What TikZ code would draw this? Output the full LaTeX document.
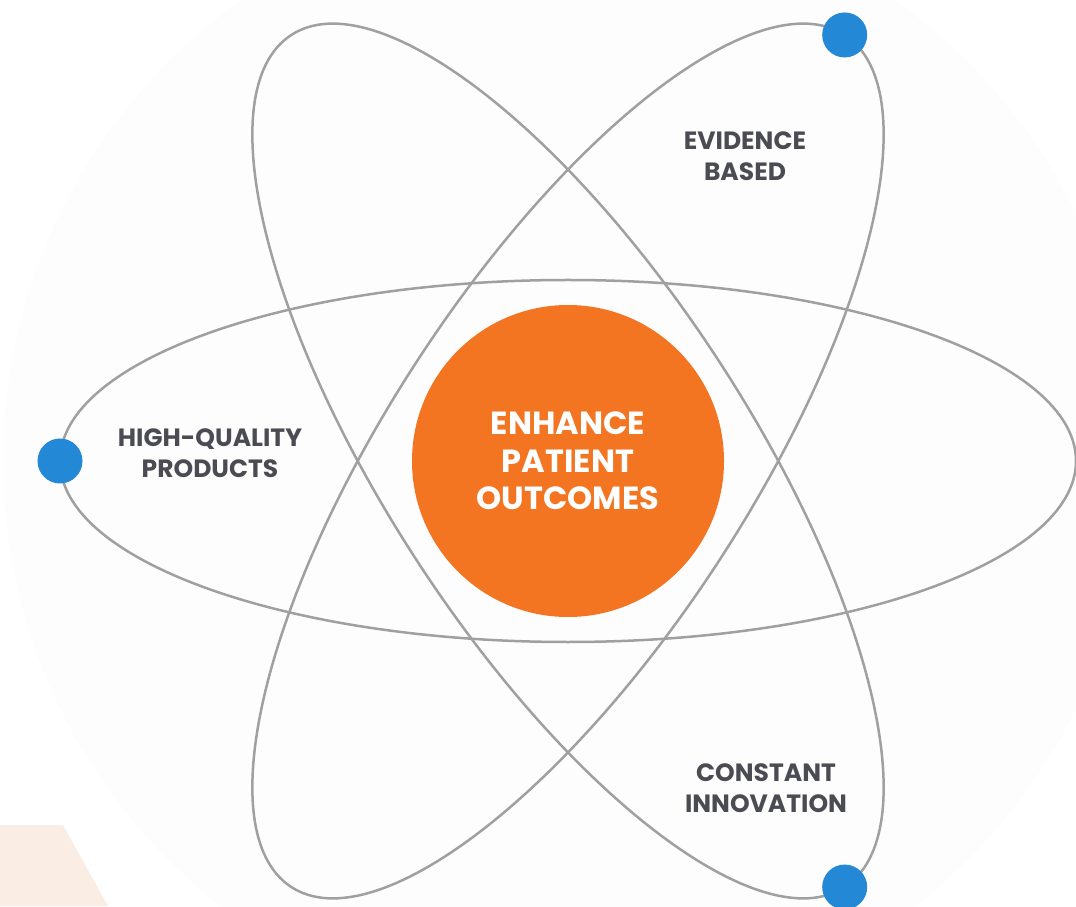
\documentclass[tikz,border=0pt]{standalone}
\usepackage{fontspec}
\setmainfont{Poppins}
\usepackage{tikz}
\definecolor{orbitgray}{HTML}{A0A0A0}
\definecolor{dotblue}{HTML}{2389D6}
\definecolor{coreorange}{HTML}{F37522}
\definecolor{labelgray}{HTML}{4B4B53}
\definecolor{peach}{HTML}{FAEDE3}
\definecolor{haze}{HTML}{FDFDFD}
\tikzstyle{orbit}=[draw=orbitgray,line width=2.5pt]
\tikzstyle{bluedot}=[circle,fill=dotblue,
                     inner sep=0pt,minimum size=45pt]
\tikzstyle{tag}=[text=labelgray,align=center,inner sep=0pt,
                 font=\bfseries\fontsize{25}{31}\selectfont]
\tikzstyle{core}=[circle,fill=coreorange,text=white,align=center,
                  inner sep=0pt,minimum size=312pt,
                  font=\bfseries\fontsize{32}{37.5}\selectfont]

\begin{document}
\begin{tikzpicture}[x=1pt,y=1pt]
    \useasboundingbox (0,0) rectangle (1076,906);
    \clip (0,0) rectangle (1076,906);
    \fill[haze] (568,445) circle (565pt);
    \fill[peach] (0,0) -- (0,81) -- (63,81) -- (108,0) -- cycle;
    \begin{scope}[shift={(568,445)}]
      \draw[orbit] (0,0) ellipse [x radius=508pt, y radius=181pt];
      \draw[orbit,rotate=57] (0,0) ellipse [x radius=508pt, y radius=181pt];
      \draw[orbit,rotate=-57] (0,0) ellipse [x radius=508pt, y radius=181pt];
      \node (hub) at (0,0) [core] {ENHANCE\\PATIENT\\OUTCOMES};
      \node (d1) at (180:508pt) [bluedot] {};
      \node (d2) at (57:508pt) [bluedot] {};
      \node (d3) at (-57:508pt) [bluedot] {};
    \end{scope}
    \node (quality) at (210,453) [tag] {HIGH-QUALITY\\PRODUCTS};
    \node (evidence) at (745,750) [tag] {EVIDENCE\\BASED};
    \node (innovation) at (766,118) [tag] {CONSTANT\\INNOVATION};
  \end{tikzpicture}
\end{document}
